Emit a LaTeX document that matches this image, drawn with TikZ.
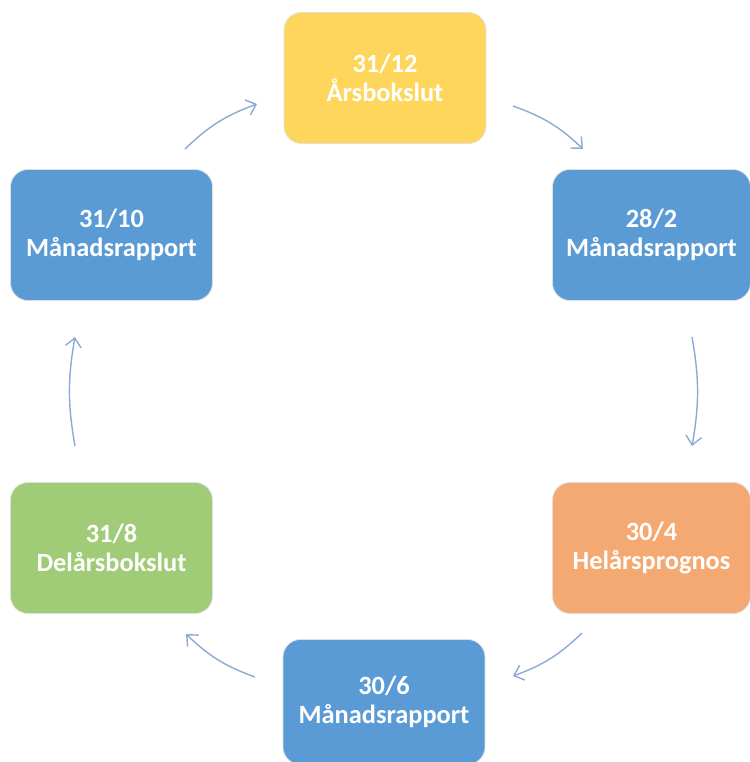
\documentclass[tikz,border=0pt]{standalone}
\usepackage{fontspec}
\setmainfont{Carlito}
\usetikzlibrary{arrows.meta}
\definecolor{yearEndColor}{RGB}{255, 214, 92}
\definecolor{monthColor}{RGB}{91, 155, 213}
\definecolor{forecastColor}{RGB}{244, 169, 114}
\definecolor{interimColor}{RGB}{160, 204, 120}
\definecolor{arrowColor}{RGB}{140, 170, 212}

\begin{document}
\begin{tikzpicture}[
		x=0.02cm, y=-0.02cm,
		% Define styles for nodes
		period/.style={
				draw=gray!25,
				rectangle,
				minimum width=4.04cm,
				minimum height=2.62cm,
				rounded corners=10pt,
				fill=#1,
				text=white,
				align=center,
				font=\fontsize{15}{16.4}\selectfont\bfseries
			},
		cyclearrow/.style={
				-{Straight Barb[length=5pt,width=9pt]},
				line width=0.8pt,
				draw=arrowColor,
				bend left=#1
			}
	]

	% Canvas
	\useasboundingbox[fill=white] (0,0) rectangle (750,762);

	% Period boxes, clockwise from the top
	\node[period=yearEndColor] (dec) at (385,78) {31/12\\Årsbokslut};
	\node[period=monthColor, minimum width=3.96cm] (feb) at (651.5,235) {28/2\\Månadsrapport};
	\node[period=forecastColor, minimum width=3.96cm] (apr) at (651.5,548) {30/4\\Helårsprognos};
	\node[period=monthColor, minimum height=2.5cm] (jun) at (384,702) {30/6\\Månadsrapport};
	\node[period=interimColor] (aug) at (111.5,548) {31/8\\Delårsbokslut};
	\node[period=monthColor] (oct) at (111.5,235) {31/10\\Månadsrapport};

	% Arrow ends
	\coordinate (decin) at (257,104);
	\coordinate (decout) at (513,106);
	\coordinate (febin) at (583,149);
	\coordinate (febout) at (692,337);
	\coordinate (aprin) at (692,446);
	\coordinate (aprout) at (582,633);
	\coordinate (junin) at (513,676);
	\coordinate (junout) at (255,677);
	\coordinate (augin) at (186,634);
	\coordinate (augout) at (75,446);
	\coordinate (octin) at (75,337);
	\coordinate (octout) at (185,149);

	% ARROWS: the yearly cycle
	\draw[cyclearrow=12] (octout) to (decin);
	\draw[cyclearrow=12] (decout) to (febin);
	\draw[cyclearrow=10] (febout) to (aprin);
	\draw[cyclearrow=12] (aprout) to (junin);
	\draw[cyclearrow=12] (junout) to (augin);
	\draw[cyclearrow=10] (augout) to (octin);

\end{tikzpicture}
\end{document}
